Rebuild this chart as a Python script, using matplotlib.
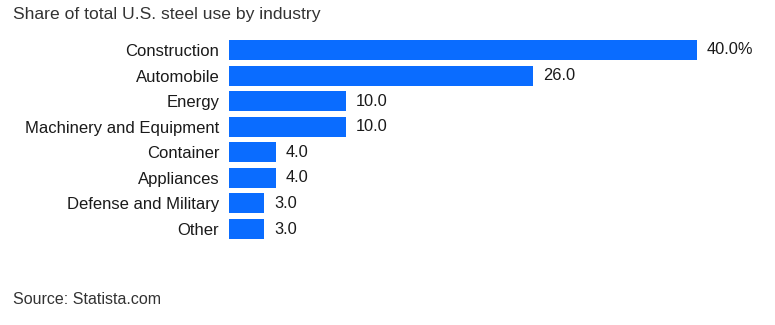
import matplotlib
matplotlib.use("Agg")
import matplotlib.pyplot as plt

categories = ["Construction", "Automobile", "Energy", "Machinery and Equipment",
              "Container", "Appliances", "Defense and Military", "Other"]
values = [40.0, 26.0, 10.0, 10.0, 4.0, 4.0, 3.0, 3.0]
value_labels = ["40.0%", "26.0", "10.0", "10.0", "4.0", "4.0", "3.0", "3.0"]
title = "Share of total U.S. steel use by industry"
source = "Source: Statista.com"

plt.rcParams['font.family'] = ['Liberation Sans', 'DejaVu Sans']
W, H = 775, 325
fig = plt.figure(figsize=(W/100, H/100), dpi=100)
left_px, right_px = 229, 760
top_px, bot_px = 37.2, 241.8
ax = fig.add_axes([left_px/W, 1 - bot_px/H, (right_px-left_px)/W, (bot_px-top_px)/H])
pxu = (697 - 229) / 40.0
ax.set_xlim(0, (right_px-left_px)/pxu)
ypos = list(range(len(categories)))
ax.barh(ypos, values, height=0.78, color="#0a6cff")
ax.set_ylim(len(categories)-0.5, -0.5)
ax.set_yticks(ypos)
ax.set_yticklabels(categories, fontsize=12, color="#1a1a1a")
ax.tick_params(axis='y', length=0, pad=7)
ax.set_xticks([])
for s in ax.spines.values():
    s.set_visible(False)
for y, v, lab in zip(ypos, values, value_labels):
    ax.text(v + 10/pxu, y, lab, va='center', ha='left', fontsize=11.8, color="#1a1a1a")
fig.text(13/W, 1 - 14/H, title, fontsize=12.6, color="#333333", va='center', ha='left')
fig.text(13/W, 1 - 300/H, source, fontsize=11.5, color="#333333", va='center', ha='left')
fig.savefig("out.png", dpi=100, facecolor="white")
